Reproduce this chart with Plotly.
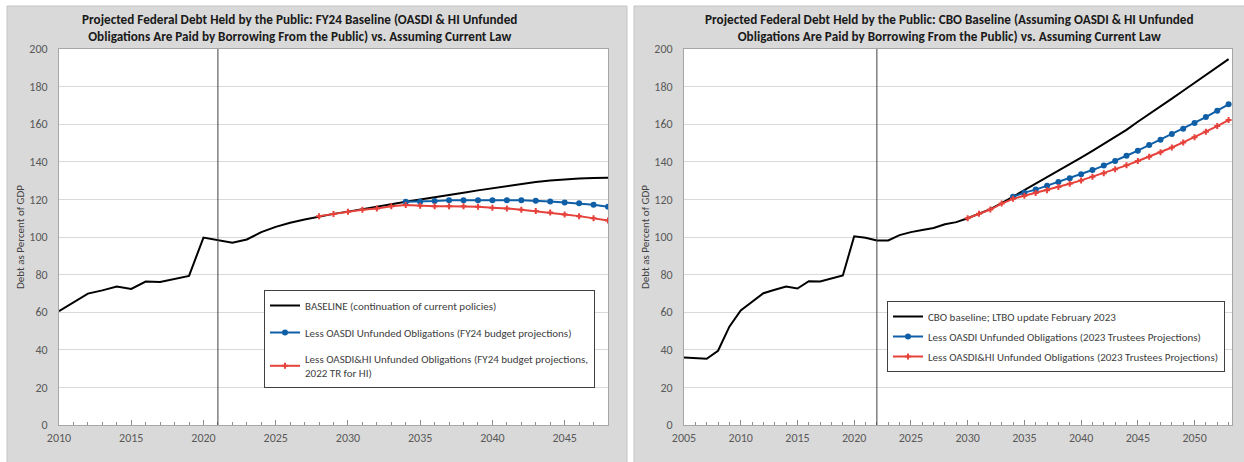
import plotly.graph_objects as go

# ---------------- data ----------------
left_years = list(range(2010, 2049))
left_baseline = [60.5, 65.4, 69.9, 71.6, 73.6, 72.4, 76.3, 76.1, 77.7, 79.3,
                 99.7, 98.3, 96.9, 98.7, 102.6, 105.4, 107.6, 109.3, 111.0, 112.3,
                 113.5, 114.7, 116.0, 117.4, 118.8, 119.9, 121.0, 122.3, 123.5, 124.8,
                 126.0, 127.2, 128.3, 129.2, 130.0, 130.7, 131.1, 131.4, 131.5]
left_oasdi_years = list(range(2034, 2049))
left_oasdi = [118.8, 118.8, 119.1, 119.5, 119.6, 119.6, 119.6, 119.6, 119.5, 119.3,
              118.9, 118.4, 117.9, 117.1, 116.1]
left_oasdihi_years = list(range(2028, 2049))
left_oasdihi = [111.1, 112.3, 113.4, 114.5, 115.2, 116.4, 117.0, 116.6, 116.4, 116.4,
                116.3, 116.1, 115.5, 115.2, 114.5, 113.8, 113.0, 112.0, 111.1, 110.0, 108.75]

right_years = list(range(2005, 2054))
right_baseline = [35.9, 35.6, 35.2, 39.5, 52.3, 60.9, 65.7, 70.1, 71.9, 73.7,
                  72.6, 76.5, 76.3, 77.9, 79.5, 100.4, 99.6, 98.2, 98.2, 101.0,
                  102.6, 103.7, 104.8, 106.8, 107.9, 110.0, 112.4, 114.8, 118.0, 121.4,
                  124.8, 128.2, 131.6, 135.1, 138.6, 142.2, 145.8, 149.5, 153.2, 157.0,
                  161.3, 165.3, 169.4, 173.6, 177.8, 182.0, 186.2, 190.4, 194.6]
right_oasdi_years = list(range(2034, 2054))
right_oasdi = [121.4, 123.6, 125.2, 127.2, 129.3, 131.3, 133.4, 135.6, 138.0, 140.4,
               143.2, 145.9, 148.9, 151.7, 154.8, 157.6, 160.6, 163.8, 167.2, 170.6]
right_oasdihi_years = list(range(2030, 2054))
right_oasdihi = [110.0, 112.4, 114.6, 117.8, 120.3, 121.9, 123.4, 124.9, 126.6, 128.3,
                 130.1, 132.0, 133.9, 136.0, 138.1, 140.4, 142.7, 145.1, 147.6, 150.3,
                 153.1, 156.0, 159.0, 162.2]

left_title = ("Projected Federal Debt Held by the Public: FY24 Baseline (OASDI & HI Unfunded<br>"
              "Obligations Are Paid by Borrowing From the Public) vs. Assuming Current Law")
right_title = ("Projected Federal Debt Held by the Public: CBO Baseline (Assuming OASDI & HI Unfunded<br>"
               "Obligations Are Paid by Borrowing From the Public) vs. Assuming Current Law")
left_names = ["BASELINE (continuation of current policies)",
              "Less OASDI Unfunded Obligations (FY24 budget projections)",
              "Less OASDI&HI Unfunded Obligations (FY24 budget projections,<br>2022 TR for HI)"]
right_names = ["CBO baseline; LTBO update February 2023",
               "Less OASDI Unfunded Obligations (2023 Trustees Projections)",
               "Less OASDI&HI Unfunded Obligations (2023 Trustees Projections)"]
y_title = "Debt as Percent of GDP"

# ---------------- style ----------------
W, H = 1244, 462
FONT = "Calibri, Carlito, Lato, sans-serif"
BLACK = "#000000"
BLUE = "#0e5fa6"
RED = "#e6423b"
GRAY_PANEL = "#d9d9d9"

def px_x(p):
    return p / W

def px_y(p):
    return 1 - p / H

fig = go.Figure()

def add_series(x, y, name, color, marker, xa, ya, legend, group):
    mode = "lines" if marker is None else "lines+markers"
    kw = dict(x=x, y=y, name=name, mode=mode, xaxis=xa, yaxis=ya,
              legend=legend, legendgroup=group,
              line=dict(color=color, width=2))
    if marker:
        kw["marker"] = dict(symbol=marker, size=6 if marker == "circle" else 5, color=color,
                            line=dict(width=0))
    fig.add_trace(go.Scatter(**kw))

add_series(left_years, left_baseline, left_names[0], BLACK, None, "x", "y", "legend", "a")
add_series(left_oasdi_years, left_oasdi, left_names[1], BLUE, "circle", "x", "y", "legend", "b")
add_series(left_oasdihi_years, left_oasdihi, left_names[2], RED, "cross", "x", "y", "legend", "c")
add_series(right_years, right_baseline, right_names[0], BLACK, None, "x2", "y2", "legend2", "d")
add_series(right_oasdi_years, right_oasdi, right_names[1], BLUE, "circle", "x2", "y2", "legend2", "e")
add_series(right_oasdihi_years, right_oasdihi, right_names[2], RED, "cross", "x2", "y2", "legend2", "f")

xcommon = dict(showgrid=False, showline=True, linecolor="#a6a6a6", linewidth=1, mirror=True,
               ticks="inside", ticklen=5, tickcolor="#8c8c8c", dtick=5,
               minor=dict(ticks="inside", ticklen=3, dtick=1, tickcolor="#8c8c8c"),
               tickfont=dict(family=FONT, size=12, color="#595959"), zeroline=False,
               ticklabelstandoff=2, automargin=False)
ycommon = dict(range=[0, 200], dtick=20, showgrid=True, gridcolor="#d9d9d9", gridwidth=1,
               showline=True, linecolor="#a6a6a6", linewidth=1, mirror=True, ticks="",
               tickfont=dict(family=FONT, size=12, color="#595959"), zeroline=False,
               ticklabelstandoff=8, automargin=False,
               title=dict(text=y_title, font=dict(family=FONT, size=11, color="#404040"),
                          standoff=2))

top = px_y(49)
bottom = px_y(425)
fig.update_layout(
    xaxis=dict(domain=[px_x(59), px_x(608)], range=[2010, 2048], tick0=2010, **xcommon),
    yaxis=dict(domain=[bottom, top], anchor="x", **ycommon),
    xaxis2=dict(domain=[px_x(684), px_x(1232)], range=[2005, 2053.3], tick0=2005, anchor="y2", **xcommon),
    yaxis2=dict(domain=[bottom, top], anchor="x2", **ycommon),
)

legend_common = dict(bgcolor="white", bordercolor="#404040", borderwidth=1,
                     font=dict(family=FONT, size=11, color="#404040"),
                     xanchor="left", yanchor="top", itemwidth=30, traceorder="grouped")
fig.update_layout(
    legend=dict(x=px_x(264), y=px_y(290), tracegroupgap=8, **legend_common),
    legend2=dict(x=px_x(887), y=px_y(301), tracegroupgap=1, **legend_common),
    showlegend=True,
)

shapes = [
    dict(type="rect", xref="paper", yref="paper", x0=px_x(7), x1=px_x(627), y0=-0.05, y1=px_y(6),
         fillcolor=GRAY_PANEL, line=dict(color="#c4c4c4", width=1), layer="below"),
    dict(type="rect", xref="paper", yref="paper", x0=px_x(634), x1=1.05, y0=-0.05, y1=px_y(6),
         fillcolor=GRAY_PANEL, line=dict(color="#c4c4c4", width=1), layer="below"),
    dict(type="rect", xref="x domain", yref="y domain", x0=0, x1=1, y0=0, y1=1,
         fillcolor="white", line=dict(width=0), layer="below"),
    dict(type="rect", xref="x2 domain", yref="y2 domain", x0=0, x1=1, y0=0, y1=1,
         fillcolor="white", line=dict(width=0), layer="below"),
    dict(type="line", xref="x", yref="y", x0=2021, x1=2021, y0=0, y1=200,
         line=dict(color="#404040", width=1), layer="above"),
    dict(type="line", xref="x2", yref="y2", x0=2022, x1=2022, y0=0, y1=200,
         line=dict(color="#404040", width=1), layer="above"),
]

annotations = [
    dict(text="<b>" + left_title + "</b>", xref="paper", yref="paper", x=px_x(299), y=px_y(28),
         showarrow=False, xanchor="center", yanchor="middle",
         font=dict(family=FONT, size=13.2, color="#1a1a1a")),
    dict(text="<b>" + right_title + "</b>", xref="paper", yref="paper", x=px_x(949), y=px_y(28),
         showarrow=False, xanchor="center", yanchor="middle",
         font=dict(family=FONT, size=13.2, color="#1a1a1a")),
]

fig.update_layout(
    template="none",
    width=W, height=H, margin=dict(l=0, r=0, t=0, b=0, pad=0, autoexpand=False),
    paper_bgcolor="white", plot_bgcolor="white",
    shapes=shapes, annotations=annotations,
    font=dict(family=FONT),
)

fig.write_html("out.html", config={"displayModeBar": False},
               post_script="document.body.style.margin='0';")
